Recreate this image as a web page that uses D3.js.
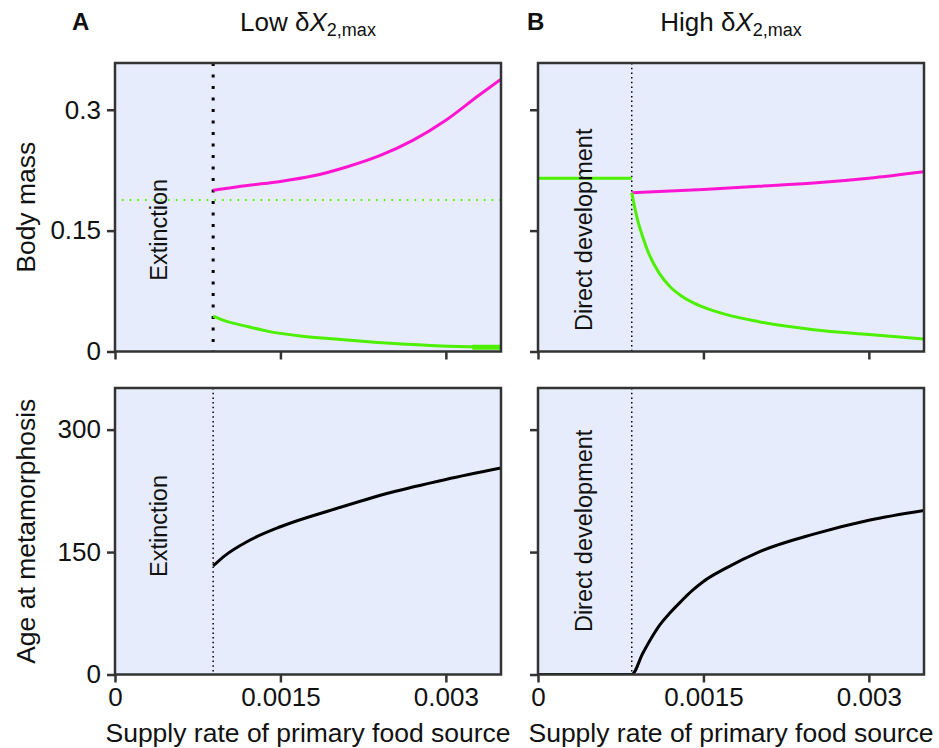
<!DOCTYPE html>
<html>
<head>
<meta charset="utf-8">
<script src="https://cdn.jsdelivr.net/npm/d3@7"></script>
<style>
  body { margin: 0; background: #fff; }
  text { font-family: "Liberation Sans", Arial, sans-serif; fill: #111; }
</style>
</head>
<body>
<div id="vis"></div>
<script>
const width = 939;
const height = 748;

// Tick values
const xTicks = [0, 0.0015, 0.003];
const xTickLabels = ["0", "0.0015", "0.003"];
const massTicks = [0, 0.15, 0.3];
const massTickLabels = ["0", "0.15", "0.3"];
const ageTicks = [0, 150, 300];
const ageTickLabels = ["0", "150", "300"];

// Threshold supply rates (dotted verticals)
const lowThreshold = 0.00089;
const highThreshold = 0.00085;

// Panel A, body mass
const lowMagentaX = [0.00089, 0.0012, 0.0015, 0.0018, 0.0021, 0.0024, 0.0027, 0.0030, 0.0033, 0.0035];
const lowMagentaY = [0.200, 0.206, 0.211, 0.218, 0.229, 0.243, 0.262, 0.287, 0.318, 0.338];
const lowGreenX = [0.00089, 0.001, 0.0012, 0.00139, 0.0017, 0.002, 0.0023, 0.0026, 0.0029, 0.00324, 0.0035];
const lowGreenY = [0.044, 0.038, 0.031, 0.025, 0.019, 0.0154, 0.012, 0.0092, 0.0072, 0.0058, 0.005];
const lowGreenTailX = [0.00324, 0.0035];
const lowGreenTailY = [0.0052, 0.0052];
const lowGreenRefX = [0, 0.0035];
const lowGreenRefY = [0.188, 0.188];

// Panel B, body mass
const highGreenFlatX = [0, 0.00085];
const highGreenFlatY = [0.215, 0.215];
const highMagentaX = [0.00085, 0.0015, 0.002, 0.0025, 0.003, 0.0035];
const highMagentaY = [0.197, 0.201, 0.205, 0.209, 0.215, 0.223];
const highGreenX = [0.00085, 0.0009, 0.00095, 0.001, 0.0011, 0.0012, 0.0013, 0.0014, 0.0015, 0.0017, 0.002, 0.0025, 0.003, 0.0035];
const highGreenY = [0.197, 0.165, 0.142, 0.123, 0.097, 0.080, 0.069, 0.061, 0.055, 0.046, 0.037, 0.027, 0.021, 0.0155];

// Age at metamorphosis
const lowAgeX = [0.00089, 0.001, 0.0012, 0.0015, 0.002, 0.0025, 0.003, 0.0035];
const lowAgeY = [133, 146, 163, 181, 203, 223, 239, 253];
const highAgeX = [0, 0.00085, 0.00095, 0.00102, 0.0011, 0.0012, 0.0013, 0.0014, 0.0015, 0.0017, 0.002, 0.0025, 0.003, 0.0035];
const highAgeY = [0, 0, 26, 43, 60, 76, 90, 103, 114, 130, 150, 172, 189, 201];

const magenta = "#ff14d2";
const green = "#4cf000";
const bg = "#e6ecfb";
const frame = "#333";

const svg = d3.select("#vis").append("svg")
  .attr("width", width).attr("height", height);

const cols = [
  { x0: 115, x1: 501 },
  { x0: 538, x1: 924 }
];
const rows = [
  { y0: 63, y1: 351.5, domain: [0, 0.358], ticks: massTicks, labels: massTickLabels },
  { y0: 388, y1: 674.5, domain: [0, 351], ticks: ageTicks, labels: ageTickLabels }
];

const zip = (xs, ys) => xs.map((x, i) => [x, ys[i]]);

function panel(ci, ri) {
  const c = cols[ci], r = rows[ri];
  const x = d3.scaleLinear().domain([0, 0.0035]).range([c.x0, c.x1]);
  const y = d3.scaleLinear().domain(r.domain).range([r.y1, r.y0]);
  const g = svg.append("g");

  g.append("rect")
    .attr("x", c.x0).attr("y", r.y0)
    .attr("width", c.x1 - c.x0).attr("height", r.y1 - r.y0)
    .attr("fill", bg);

  const clipId = `clip${ci}${ri}`;
  g.append("clipPath").attr("id", clipId).append("rect")
    .attr("x", c.x0).attr("y", r.y0 - 2)
    .attr("width", c.x1 - c.x0).attr("height", r.y1 - r.y0 + 2);
  const plot = g.append("g").attr("clip-path", `url(#${clipId})`);

  // axes
  const xAxis = d3.axisBottom(x).tickValues(xTicks).tickSize(8).tickSizeOuter(0)
    .tickFormat((d, i) => ri === 1 ? xTickLabels[i] : "");
  const yAxis = d3.axisLeft(y).tickValues(r.ticks).tickSize(8).tickSizeOuter(0)
    .tickFormat((d, i) => ci === 0 ? r.labels[i] : "");

  const gx = g.append("g").attr("transform", `translate(0,${r.y1})`).call(xAxis);
  const gy = g.append("g").attr("transform", `translate(${c.x0},0)`).call(yAxis);
  [gx, gy].forEach(a => {
    a.select(".domain").remove();
    a.selectAll("line").attr("stroke", frame).attr("stroke-width", 2.5);
    a.selectAll("text").attr("font-size", 26)
      .attr("font-family", "Liberation Sans, Arial, sans-serif").attr("fill", "#111");
  });
  gx.selectAll("text").attr("dy", "0.9em").attr("y", 8);
  gy.selectAll("text").attr("x", -14);

  return { x, y, g, plot, c, r };
}

function line(p, xs, ys, color, w, dash) {
  const gen = d3.line().x(d => p.x(d[0])).y(d => p.y(d[1])).curve(d3.curveMonotoneX);
  const path = p.plot.append("path")
    .datum(zip(xs, ys))
    .attr("d", gen)
    .attr("fill", "none")
    .attr("stroke", color)
    .attr("stroke-width", w);
  if (dash) path.attr("stroke-dasharray", dash).attr("stroke-linecap", "round");
  return path;
}

function vline(p, xv, w, dash) {
  p.plot.append("line")
    .attr("x1", p.x(xv)).attr("x2", p.x(xv))
    .attr("y1", p.r.y0).attr("y2", p.r.y1)
    .attr("stroke", "#000").attr("stroke-width", w)
    .attr("stroke-dasharray", dash);
}

function sideLabel(p, text, xv, yv) {
  p.g.append("text")
    .attr("transform", `translate(${p.x(xv)},${p.y(yv)}) rotate(-90)`)
    .attr("text-anchor", "middle")
    .attr("font-size", 23.5)
    .text(text);
}

function frameRect(p) {
  p.g.append("rect")
    .attr("x", p.c.x0).attr("y", p.r.y0)
    .attr("width", p.c.x1 - p.c.x0).attr("height", p.r.y1 - p.r.y0)
    .attr("fill", "none").attr("stroke", frame).attr("stroke-width", 2.5);
}

// A top
const aTop = panel(0, 0);
line(aTop, lowGreenRefX, lowGreenRefY, green, 2, "0.1,7.6");
vline(aTop, lowThreshold, 3, "3,8.5");
line(aTop, lowMagentaX, lowMagentaY, magenta, 3);
line(aTop, lowGreenX, lowGreenY, green, 3);
line(aTop, lowGreenTailX, lowGreenTailY, green, 5);
sideLabel(aTop, "Extinction", 0.000472, 0.151);
frameRect(aTop);

// B top
const bTop = panel(1, 0);
vline(bTop, highThreshold, 1.5, "1.5,3.2");
line(bTop, highGreenFlatX, highGreenFlatY, green, 3);
line(bTop, highMagentaX, highMagentaY, magenta, 3);
line(bTop, highGreenX, highGreenY, green, 3);
sideLabel(bTop, "Direct development", 0.000492, 0.151);
frameRect(bTop);

// A bottom
const aBot = panel(0, 1);
vline(aBot, lowThreshold, 1.5, "1.5,3.2");
line(aBot, lowAgeX, lowAgeY, "#000", 3);
sideLabel(aBot, "Extinction", 0.000472, 182);
frameRect(aBot);

// B bottom
const bBot = panel(1, 1);
vline(bBot, highThreshold, 1.5, "1.5,3.2");
line(bBot, highAgeX, highAgeY, "#000", 3);
sideLabel(bBot, "Direct development", 0.000492, 176);
frameRect(bBot);

// axis titles
svg.append("text").attr("x", (cols[0].x0 + cols[0].x1) / 2).attr("y", 742)
  .attr("text-anchor", "middle").attr("font-size", 26.5)
  .text("Supply rate of primary food source");
svg.append("text").attr("x", (cols[1].x0 + cols[1].x1) / 2).attr("y", 742)
  .attr("text-anchor", "middle").attr("font-size", 26.5)
  .text("Supply rate of primary food source");
svg.append("text")
  .attr("transform", `translate(35,${(rows[0].y0 + rows[0].y1) / 2}) rotate(-90)`)
  .attr("text-anchor", "middle").attr("font-size", 26.5).text("Body mass");
svg.append("text")
  .attr("transform", `translate(35,${(rows[1].y0 + rows[1].y1) / 2}) rotate(-90)`)
  .attr("text-anchor", "middle").attr("font-size", 26.5).text("Age at metamorphosis");

// panel titles
svg.append("text").attr("x", 72).attr("y", 30).attr("font-size", 24)
  .attr("font-weight", "bold").text("A");
svg.append("text").attr("x", 527).attr("y", 30).attr("font-size", 24)
  .attr("font-weight", "bold").text("B");

function title(cx, word) {
  const t = svg.append("text").attr("x", cx).attr("y", 31)
    .attr("text-anchor", "middle").attr("font-size", 26);
  t.append("tspan").text(word + " δ");
  t.append("tspan").attr("font-style", "italic").text("X");
  t.append("tspan").attr("font-size", 18).attr("dy", 5).text("2,max");
}
title((cols[0].x0 + cols[0].x1) / 2, "Low");
title((cols[1].x0 + cols[1].x1) / 2, "High");
</script>
</body>
</html>
